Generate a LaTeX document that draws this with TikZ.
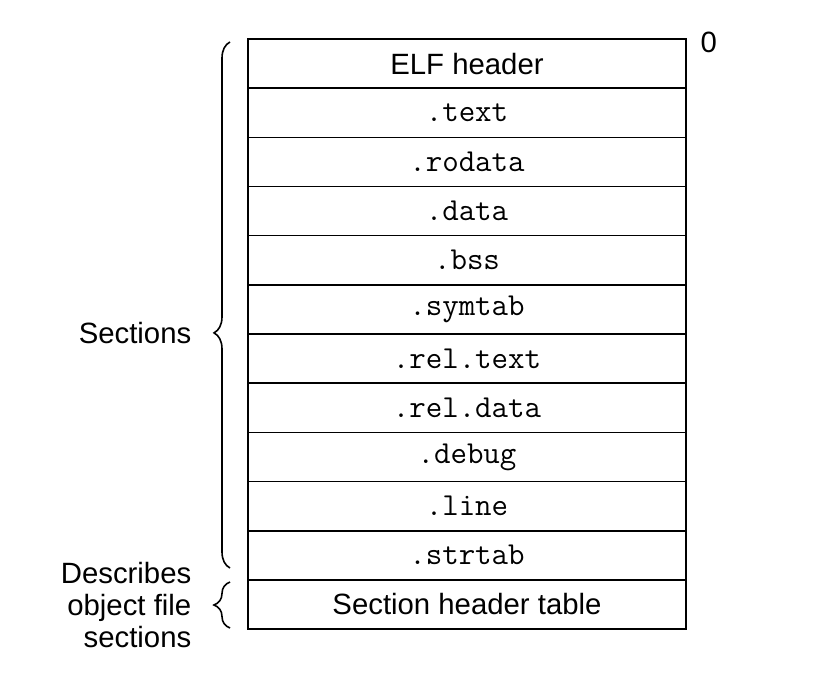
\documentclass[tikz,border=0pt]{standalone}
\usepackage{fontspec}
\setmainfont{Liberation Sans}
\usetikzlibrary{decorations.pathreplacing}

\begin{document}
\begin{tikzpicture}[x=0.75pt, y=-0.75pt,
  sec/.style={draw, line width=1.2pt, minimum width=328.5pt,
    minimum height=36.9pt, inner sep=0pt,
    font=\fontsize{22}{26}\selectfont},
  code/.style={font=\fontsize{24}{28}\selectfont\ttfamily},
  brc/.style={decorate, decoration={brace, amplitude=12pt},
    line width=1.2pt},
  lbl/.style={font=\fontsize{22}{24}\selectfont, align=right}]

\useasboundingbox (0,0) rectangle (824,684);

% --- File layout ---
\node[sec] (s1) at (467, 63.6) {ELF header};
\foreach \i/\t in {2/.text, 3/.rodata, 4/.data, 5/.bss, 6/.symtab,
  7/.rel.text, 8/.rel.data, 9/.debug, 10/.line, 11/.strtab} {
  \node[sec, code] (s\i) at (467, {39+49.17*(\i-0.5)}) {\t};
}
\node[sec] (s12) at (467, {39+49.17*11.5}) {Section header table};

% --- Offset ---
\node[lbl, anchor=west] (zero) at (696, 42) {0};

% --- Braces ---
\coordinate (b1top) at (230, 42);
\coordinate (b1bot) at (230, 568);
\coordinate (b2top) at (230, 582);
\coordinate (b2bot) at (230, 628);
\draw[brc, decoration={aspect=0.447}] (b1bot) -- (b1top);
\draw[brc] (b2bot) -- (b2top);

% --- Labels ---
\node[lbl, anchor=east] (secs) at (196, 333) {Sections};
\node[lbl, anchor=east] (desc) at (196, 605)
  {Describes\\object file\\sections};

\end{tikzpicture}
\end{document}
